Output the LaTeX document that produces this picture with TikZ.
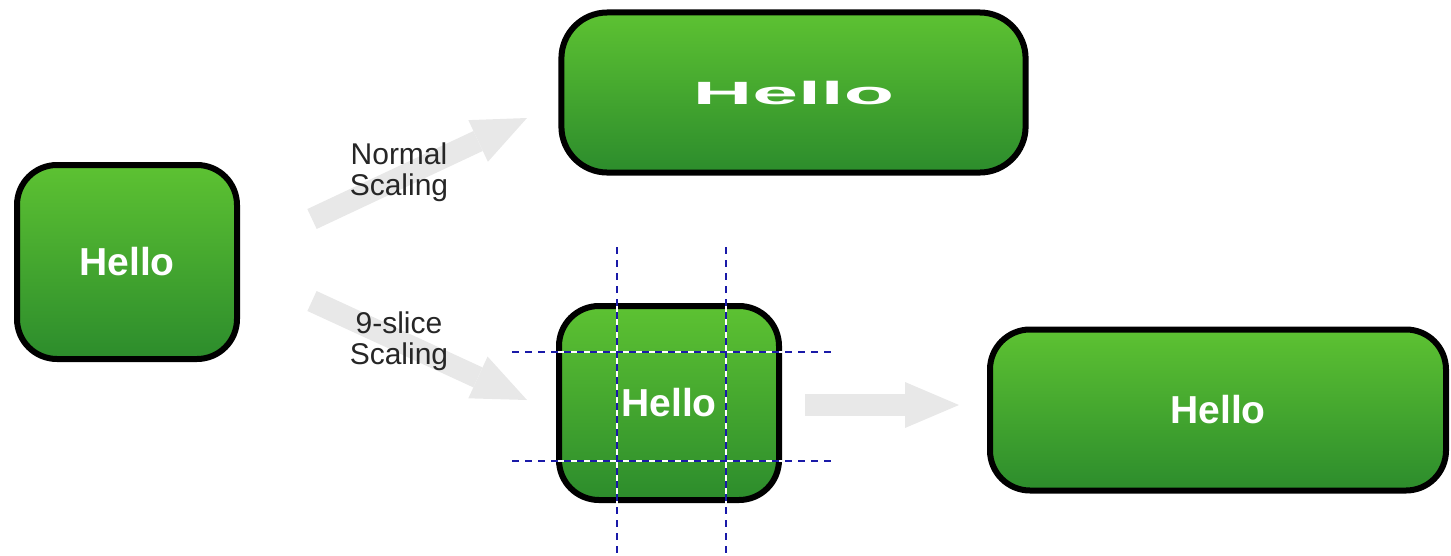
\documentclass[tikz,border=0pt]{standalone}
\usepackage{fontspec}
\setmainfont{Liberation Sans}
\usetikzlibrary{positioning,arrows.meta}
\definecolor{btntop}{HTML}{5DC232}
\definecolor{btnbot}{HTML}{2C8C2C}
\definecolor{slicecol}{HTML}{1A1AA8}
\definecolor{arrowgray}{HTML}{E8E8E8}

\begin{document}
\begin{tikzpicture}[x=1pt,y=-1pt,
	button/.style={draw=black,line width=6pt,rounded corners=40pt,top color=btntop,bottom color=btnbot,text=white,font=\bfseries\fontsize{39}{39}\selectfont,minimum width=220pt,minimum height=194pt},
	bigarrow/.style={draw=arrowgray,line width=22pt,-{Triangle[width=46pt,length=54pt,line width=0pt]}},
	lbl/.style={align=center,text=black!85,font=\fontsize{30}{31}\selectfont},
	cut/.style={draw=slicecol,line width=1.6pt,dash pattern=on 7pt off 6pt,preaction={draw=white,solid,line width=1.6pt}}]

\useasboundingbox (0,0) rectangle (1451,555);

\coordinate (a1) at (312,219);
\coordinate (b1) at (527,118);
\coordinate (a2) at (312,301);
\coordinate (b2) at (527,400);
\coordinate (a3) at (805,405);
\coordinate (b3) at (959,405);
\foreach \s/\t in {a1/b1,a2/b2,a3/b3}
	\draw[bigarrow] (\s) -- (\t);

\node[button] (orig) at (127,262) {Hello};
\begin{scope}[shift={(793.5,92.5)}]
	\node[button,rounded corners=46pt,xscale=2.11,yscale=0.825,transform shape] (normal) at (0,0) {Hello};
\end{scope}
\node[button] (nine) at (669,403) {Hello};
\node[button,minimum width=456pt,minimum height=161pt] (wide) at (1218,410) {Hello};

\node[lbl] (normallbl) at (399,172) {Normal\\Scaling};
\node[lbl] (slicelbl) at (399,341) {9-slice\\Scaling};

\foreach \x in {617,726}
	\draw[cut] (\x,247) -- (\x,555);
\foreach \y in {352,461}
	\draw[cut] (512,\y) -- (835,\y);
\end{tikzpicture}
\end{document}
